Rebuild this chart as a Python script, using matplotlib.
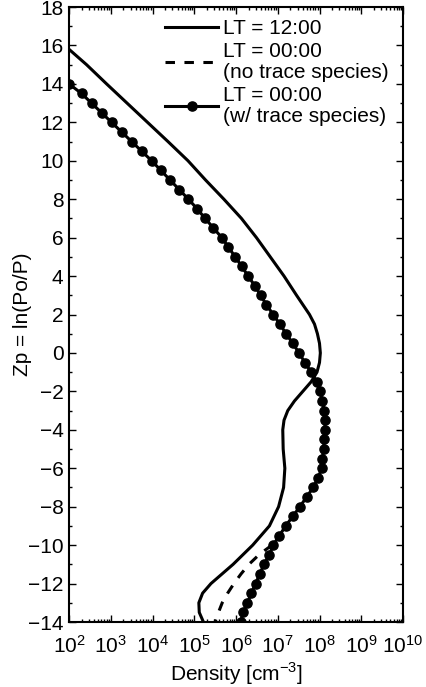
import numpy as np
import matplotlib
matplotlib.use("Agg")
import matplotlib.pyplot as plt
from matplotlib.ticker import LogLocator, MultipleLocator, NullFormatter

plt.rcParams['font.family'] = ['Liberation Sans', 'DejaVu Sans']
plt.rcParams['mathtext.fontset'] = 'custom'
plt.rcParams['mathtext.rm'] = 'Liberation Sans'

# LT = 12:00 (log10 density vs Zp)
zp_day = [15.8, 15, 14, 13, 12, 11, 10, 9, 8, 7, 6, 5, 4, 3, 2, 1.5, 1, 0.5, 0, -0.5,
          -1, -1.5, -2, -2.5, -3, -3.5, -4, -5, -6, -7, -8, -9, -10, -11, -12, -12.5,
          -13, -13.5, -14]
logn_day = [2.0, 2.42, 2.9, 3.39, 3.88, 4.37, 4.85, 5.27, 5.71, 6.13, 6.49, 6.82,
            7.15, 7.45, 7.76, 7.88, 7.95, 8.0, 8.02, 8.0, 7.94, 7.8, 7.6, 7.4,
            7.24, 7.15, 7.12, 7.13, 7.17, 7.14, 7.02, 6.8, 6.4, 5.93, 5.4, 5.2,
            5.11, 5.12, 5.22]

# LT = 00:00 with trace species (markers every 0.5)
zp_night = np.arange(14, -14.01, -0.5)
logn_trace = [2.0, 2.3, 2.54, 2.78, 3.02, 3.26, 3.5, 3.74, 3.98, 4.2, 4.42, 4.64,
              4.86, 5.07, 5.26, 5.46, 5.66, 5.82, 5.98, 6.14, 6.29, 6.45, 6.59,
              6.73, 6.89, 7.05, 7.2, 7.36, 7.51, 7.65, 7.8, 7.93, 8.01, 8.07,
              8.11, 8.13, 8.13, 8.11, 8.1, 8.07, 8.05, 7.97, 7.85, 7.69, 7.53,
              7.36, 7.19, 7.04, 6.89, 6.8, 6.67, 6.57, 6.47, 6.37, 6.27, 6.17, 6.11]

# LT = 00:00 without trace species (same as above until Zp ~ -10)
zp_notrace = [-10, -10.5, -11, -11.5, -12, -12.5, -13, -13.5, -14]
logn_notrace = [6.86, 6.55, 6.31, 6.12, 5.95, 5.8, 5.67, 5.58, 5.5]

fig = plt.figure(figsize=(4.27, 6.87), dpi=100)
ax = fig.add_axes([0.1616, 0.0946, 0.7822, 0.8952])

lw = 2.2
l1, = ax.plot(10 ** np.array(logn_day), zp_day, 'k-', lw=lw)
l2, = ax.plot(10 ** np.array(logn_notrace), zp_notrace, 'k--', lw=lw, dashes=(3.1, 3.1))
l3, = ax.plot(10 ** np.array(logn_trace), zp_night, 'k-', lw=lw,
              marker='o', markersize=6.6)

ax.set_xscale('log')
ax.set_xlim(1e2, 1e10)
ax.set_ylim(-14, 18)
ax.yaxis.set_major_locator(MultipleLocator(2))
ax.yaxis.set_minor_locator(MultipleLocator(1))
ax.xaxis.set_major_locator(LogLocator(base=10, numticks=20))
ax.xaxis.set_minor_locator(LogLocator(base=10, subs=np.arange(2, 10), numticks=100))
ax.xaxis.set_minor_formatter(NullFormatter())
ax.tick_params(which='both', direction='in', top=True, right=True, labelsize=15,
               width=1.0)
ax.tick_params(which='major', length=5)
ax.tick_params(which='minor', length=2.5)
ax.tick_params(axis='x', pad=9)
ax.tick_params(axis='y', pad=4)
for s in ax.spines.values():
    s.set_linewidth(1.5)

ax.set_xlabel('Density [cm$^{-3}$]', fontsize=15, labelpad=3)
ax.set_ylabel('Zp = ln(Po/P)', fontsize=15, labelpad=-3)

leg = ax.legend([l1, l2, l3],
                ['LT = 12:00', 'LT = 00:00\n(no trace species)',
                 'LT = 00:00\n(w/ trace species)'],
                loc='upper left', bbox_to_anchor=(0.2874, 0.98), frameon=False,
                fontsize=15, handlelength=2.55, handletextpad=0.24,
                labelspacing=0.2, borderaxespad=0, borderpad=0)
for t in leg.get_texts():
    t.set_linespacing(1.1)

fig.savefig('out.png', dpi=100)
